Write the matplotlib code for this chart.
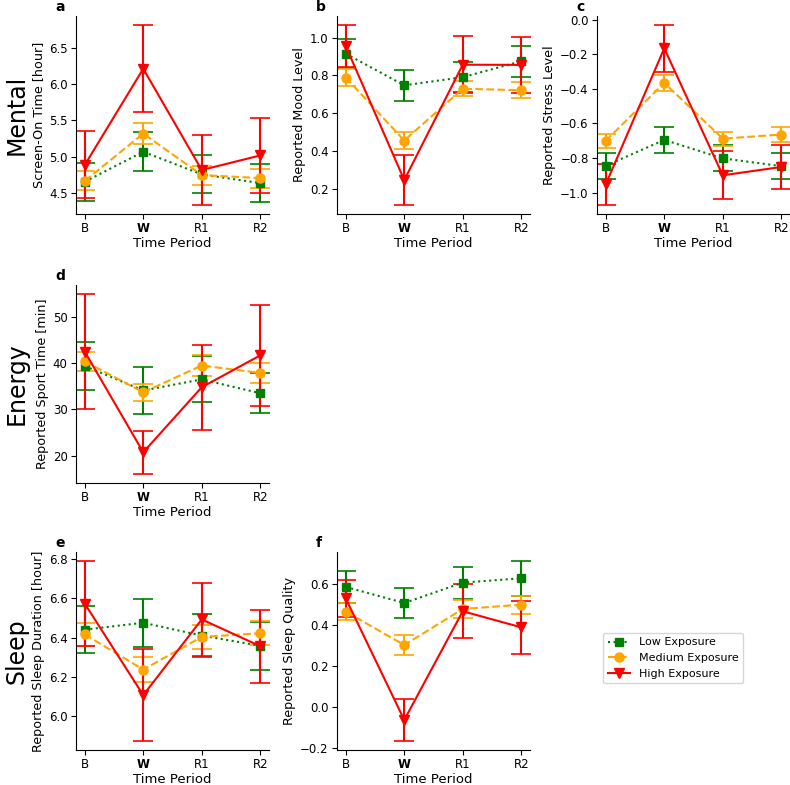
import matplotlib
matplotlib.use("Agg")
import matplotlib.pyplot as plt
from matplotlib.lines import Line2D
import numpy as np

periods = ["B", "W", "R1", "R2"]
groups = ["Low Exposure", "Medium Exposure", "High Exposure"]

# Panel a: Screen-On Time [hour]
a_mean = {"low": [4.66, 5.07, 4.76, 4.64], "med": [4.67, 5.32, 4.75, 4.71], "high": [4.89, 6.21, 4.82, 5.02]}
a_err = {"low": [0.26, 0.27, 0.26, 0.26], "med": [0.13, 0.14, 0.13, 0.13], "high": [0.46, 0.60, 0.48, 0.51]}
# Panel b: Reported Mood Level
b_mean = {"low": [0.915, 0.748, 0.791, 0.875], "med": [0.789, 0.456, 0.730, 0.722], "high": [0.955, 0.247, 0.857, 0.856]}
b_err = {"low": [0.078, 0.083, 0.08, 0.082], "med": [0.044, 0.044, 0.04, 0.043], "high": [0.112, 0.132, 0.15, 0.15]}
# Panel c: Reported Stress Level
c_mean = {"low": [-0.845, -0.695, -0.802, -0.847], "med": [-0.700, -0.365, -0.688, -0.664], "high": [-0.952, -0.165, -0.900, -0.852]}
c_err = {"low": [0.075, 0.077, 0.075, 0.074], "med": [0.04, 0.045, 0.04, 0.043], "high": [0.12, 0.135, 0.14, 0.13]}
# Panel d: Reported Sport Time [min]
d_mean = {"low": [39.4, 34.1, 36.5, 33.5], "med": [40.4, 33.7, 39.5, 37.9], "high": [42.5, 20.7, 34.8, 41.7]}
d_err = {"low": [5.3, 5.1, 5.0, 4.3], "med": [2.1, 1.9, 2.2, 2.1], "high": [12.5, 4.7, 9.2, 11.0]}
# Panel e: Reported Sleep Duration [hour]
e_mean = {"low": [6.440, 6.475, 6.410, 6.358], "med": [6.416, 6.237, 6.403, 6.422], "high": [6.572, 6.107, 6.492, 6.356]}
e_err = {"low": [0.118, 0.122, 0.11, 0.123], "med": [0.06, 0.063, 0.06, 0.06], "high": [0.217, 0.233, 0.187, 0.185]}
# Panel f: Reported Sleep Quality
f_mean = {"low": [0.584, 0.506, 0.605, 0.626], "med": [0.464, 0.302, 0.477, 0.498], "high": [0.528, -0.062, 0.466, 0.388]}
f_err = {"low": [0.077, 0.075, 0.078, 0.084], "med": [0.04, 0.047, 0.045, 0.043], "high": [0.09, 0.102, 0.13, 0.128]}

panels = [
    ("a", "Screen-On Time [hour]", a_mean, a_err),
    ("b", "Reported Mood Level", b_mean, b_err),
    ("c", "Reported Stress Level", c_mean, c_err),
    ("d", "Reported Sport Time [min]", d_mean, d_err),
    ("e", "Reported Sleep Duration [hour]", e_mean, e_err),
    ("f", "Reported Sleep Quality", f_mean, f_err),
]

W, H = 790, 785
fig = plt.figure(figsize=(W / 100, H / 100), dpi=100)

col_left = [76, 337, 597]
row_top = [16, 285, 552]
aw, ah = 193, 198
positions = [(0, 0), (0, 1), (0, 2), (1, 0), (2, 0), (2, 1)]

styles = {
    "low": dict(color="green", linestyle=":", marker="s", markersize=6),
    "med": dict(color="orange", linestyle="--", marker="o", markersize=6.5),
    "high": dict(color="red", linestyle="-", marker="v", markersize=7),
}

x = np.arange(len(periods))
for (letter, ylab, means, errs), (r, c) in zip(panels, positions):
    l = col_left[c]
    t = row_top[r]
    ax = fig.add_axes([l / W, 1 - (t + ah) / H, aw / W, ah / H])
    for key in ["low", "med", "high"]:
        st = styles[key]
        ax.errorbar(x, means[key], yerr=errs[key], capsize=7, linewidth=1.5,
                    elinewidth=1.5, capthick=1.2, **st)
    ax.set_xticks(x)
    ax.set_xticklabels(periods, fontsize=8.5)
    ax.get_xticklabels()[1].set_fontweight("bold")
    ax.tick_params(axis="both", labelsize=8.5, pad=2.5, length=3.5)
    ax.set_ylabel(ylab, fontsize=9.2, labelpad=3)
    ax.set_xlabel("Time Period", fontsize=9.5, labelpad=1.5)
    ax.spines["top"].set_visible(False)
    ax.spines["right"].set_visible(False)
    fig.text((l - 21) / W, 1 - (t - 9) / H, letter, fontsize=10, fontweight="bold",
             ha="left", va="center")

for name, t in zip(["Mental", "Energy", "Sleep"], row_top):
    fig.text(17 / W, 1 - (t + ah / 2) / H, name, fontsize=17, rotation=90,
             ha="center", va="center")

handles = [Line2D([], [], linewidth=1.5, **styles[k]) for k in ["low", "med", "high"]]
fig.legend(handles, groups, loc="center", bbox_to_anchor=(673 / W, 1 - 658 / H),
           fontsize=8, frameon=True)

fig.savefig("out.png", dpi=100)
